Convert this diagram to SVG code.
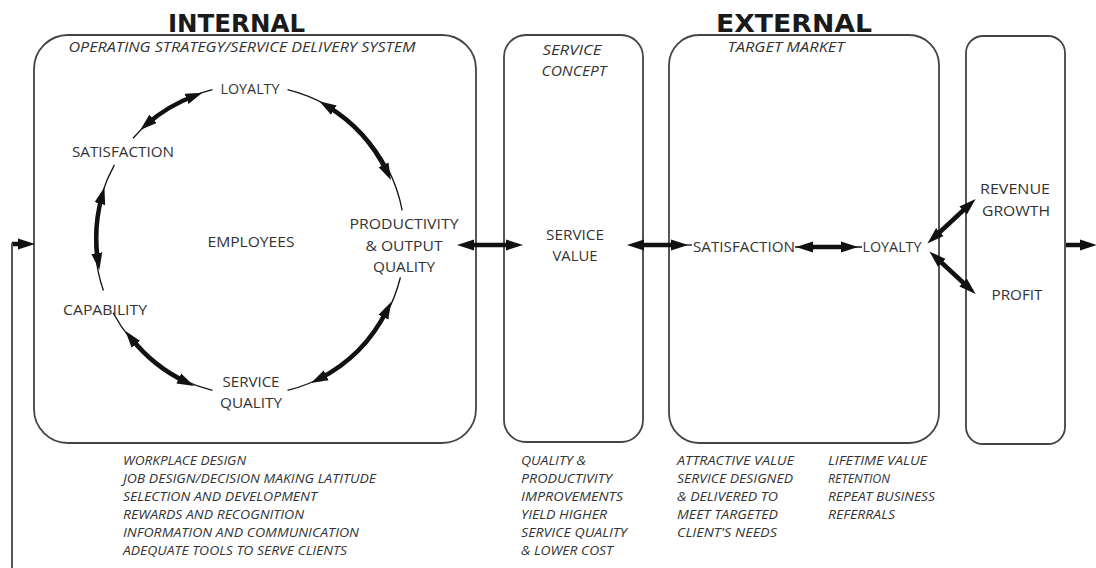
<svg xmlns="http://www.w3.org/2000/svg" width="1096" height="568" viewBox="0 0 1096 568">
<style>
.box{fill:none;stroke:#444;stroke-width:1.8}
.hdr{font-family:"DejaVu Sans",sans-serif;font-weight:bold;font-size:24px;fill:#1a1a1a}
.sub{font-family:"Open Sans",sans-serif;font-style:italic;font-size:14px;fill:#333}
.lbl{font-family:"Open Sans",sans-serif;font-size:14px;fill:#333;text-anchor:middle}
.note{font-family:"Open Sans",sans-serif;font-style:italic;font-size:12.5px;fill:#333}
.thick{fill:none;stroke:#111;stroke-width:4.5;marker-start:url(#ah);marker-end:url(#ah)}
.thin{fill:none;stroke:#111;stroke-width:1.3}
.one{fill:none;stroke:#111;stroke-width:4.5;marker-end:url(#ah)}
</style>
<defs>
<marker id="ah" markerUnits="userSpaceOnUse" markerWidth="18" markerHeight="12" refX="8" refY="6" orient="auto-start-reverse" viewBox="0 0 18 12">
<path d="M0,0.5 L17,6 L0,11.5 z" fill="#111"/>
</marker>
</defs>
<rect width="1096" height="568" fill="#fff"/>

<text class="hdr" x="168" y="32" textLength="137" lengthAdjust="spacingAndGlyphs">INTERNAL</text>
<text class="hdr" x="716" y="32" textLength="156" lengthAdjust="spacingAndGlyphs">EXTERNAL</text>

<g id="internal">
<rect class="box" x="34" y="35" width="442" height="408" rx="34" ry="34"/>
<text class="sub" x="242" y="52" text-anchor="middle" textLength="347" lengthAdjust="spacingAndGlyphs">OPERATING STRATEGY/SERVICE DELIVERY SYSTEM</text>
</g>
<g id="service-concept">
<rect class="box" x="504" y="35" width="139" height="407" rx="22" ry="22"/>
<text class="sub" x="572" y="55" text-anchor="middle" textLength="59" lengthAdjust="spacingAndGlyphs">SERVICE</text>
<text class="sub" x="574" y="76" text-anchor="middle" textLength="65" lengthAdjust="spacingAndGlyphs">CONCEPT</text>
</g>
<g id="target-market">
<rect class="box" x="669" y="35" width="270" height="408" rx="30" ry="30"/>
<text class="sub" x="786" y="52" text-anchor="middle" textLength="117" lengthAdjust="spacingAndGlyphs">TARGET MARKET</text>
</g>
<g id="results">
<rect class="box" x="966" y="36" width="99" height="408" rx="17" ry="17"/>
</g>

<g id="n-loyalty-int"><text class="lbl" x="250" y="94" textLength="59" lengthAdjust="spacingAndGlyphs">LOYALTY</text></g>
<g id="n-satisfaction-int"><text class="lbl" x="123" y="157" textLength="102" lengthAdjust="spacingAndGlyphs">SATISFACTION</text></g>
<g id="n-employees"><text class="lbl" x="251" y="247" textLength="87" lengthAdjust="spacingAndGlyphs">EMPLOYEES</text></g>
<g id="n-productivity">
<text class="lbl" x="404" y="229" textLength="109" lengthAdjust="spacingAndGlyphs">PRODUCTIVITY</text>
<text class="lbl" x="404" y="251" textLength="77" lengthAdjust="spacingAndGlyphs">&amp; OUTPUT</text>
<text class="lbl" x="404" y="272" textLength="62" lengthAdjust="spacingAndGlyphs">QUALITY</text>
</g>
<g id="n-capability"><text class="lbl" x="105" y="315" textLength="84" lengthAdjust="spacingAndGlyphs">CAPABILITY</text></g>
<g id="n-service-quality">
<text class="lbl" x="251" y="387" textLength="57" lengthAdjust="spacingAndGlyphs">SERVICE</text>
<text class="lbl" x="251" y="408" textLength="62" lengthAdjust="spacingAndGlyphs">QUALITY</text>
</g>
<g id="n-service-value">
<text class="lbl" x="575" y="240" textLength="58" lengthAdjust="spacingAndGlyphs">SERVICE</text>
<text class="lbl" x="575" y="261" textLength="45" lengthAdjust="spacingAndGlyphs">VALUE</text>
</g>
<g id="n-satisfaction-ext"><text class="lbl" x="744" y="252" textLength="102" lengthAdjust="spacingAndGlyphs">SATISFACTION</text></g>
<g id="n-loyalty-ext"><text class="lbl" x="892" y="252" textLength="59" lengthAdjust="spacingAndGlyphs">LOYALTY</text></g>
<g id="n-revenue">
<text class="lbl" x="1015" y="194" textLength="70" lengthAdjust="spacingAndGlyphs">REVENUE</text>
<text class="lbl" x="1016" y="216" textLength="68" lengthAdjust="spacingAndGlyphs">GROWTH</text>
</g>
<g id="n-profit"><text class="lbl" x="1017" y="300" textLength="51" lengthAdjust="spacingAndGlyphs">PROFIT</text></g>

<g id="connectors">
<path class="thin" d="M133,138.3 A155,155 0 0 1 212.5,89.6"/>
<path class="thick" d="M147,124 A155,155 0 0 1 194,96"/>
<path class="thin" d="M287.5,89.6 A155,155 0 0 1 402.2,210.4"/>
<path class="thick" d="M327,106 A155,155 0 0 1 387,172"/>
<path class="thin" d="M114.4,164.9 A155,155 0 0 0 103.4,290.5"/>
<path class="thick" d="M102,196 A155,155 0 0 0 98,261"/>
<path class="thin" d="M113.1,312.8 A155,155 0 0 0 212.5,390.4"/>
<path class="thick" d="M131,338 A155,155 0 0 0 186,382"/>
<path class="thin" d="M287.5,390.4 A155,155 0 0 0 400.4,277.5"/>
<path class="thick" d="M319,379 A155,155 0 0 0 387,310"/>

<path class="thick" d="M466,245 H514"/>
<path class="thick" d="M636,245 H679"/>
<path class="thin" d="M680,245 H692"/>
<path class="thick" d="M805,247 H849"/>
<path class="thin" d="M795,247 H804 M850,247 H862"/>
<path class="thick" d="M934,237.5 L969,205"/>
<path class="thick" d="M936,257.5 L969,288"/>
<path class="one" d="M1066,245 H1088"/>
<path class="one" d="M12,244 H26"/>
<path fill="none" stroke="#555" stroke-width="2" d="M12,243 V568"/>
</g>

<g id="notes-internal">
<text class="note" x="123" y="465" textLength="123" lengthAdjust="spacingAndGlyphs">WORKPLACE DESIGN</text>
<text class="note" x="123" y="483" textLength="253" lengthAdjust="spacingAndGlyphs">JOB DESIGN/DECISION MAKING LATITUDE</text>
<text class="note" x="123" y="501" textLength="194" lengthAdjust="spacingAndGlyphs">SELECTION AND DEVELOPMENT</text>
<text class="note" x="123" y="519" textLength="181" lengthAdjust="spacingAndGlyphs">REWARDS AND RECOGNITION</text>
<text class="note" x="123" y="537" textLength="236" lengthAdjust="spacingAndGlyphs">INFORMATION AND COMMUNICATION</text>
<text class="note" x="123" y="555" textLength="224" lengthAdjust="spacingAndGlyphs">ADEQUATE TOOLS TO SERVE CLIENTS</text>
</g>
<g id="notes-concept">
<text class="note" x="521" y="465" textLength="65" lengthAdjust="spacingAndGlyphs">QUALITY &amp;</text>
<text class="note" x="521" y="483" textLength="91" lengthAdjust="spacingAndGlyphs">PRODUCTIVITY</text>
<text class="note" x="521" y="501" textLength="102" lengthAdjust="spacingAndGlyphs">IMPROVEMENTS</text>
<text class="note" x="521" y="519" textLength="86" lengthAdjust="spacingAndGlyphs">YIELD HIGHER</text>
<text class="note" x="521" y="537" textLength="106" lengthAdjust="spacingAndGlyphs">SERVICE QUALITY</text>
<text class="note" x="521" y="555" textLength="92" lengthAdjust="spacingAndGlyphs">&amp; LOWER COST</text>
</g>
<g id="notes-market">
<text class="note" x="677" y="465" textLength="117" lengthAdjust="spacingAndGlyphs">ATTRACTIVE VALUE</text>
<text class="note" x="677" y="483" textLength="116" lengthAdjust="spacingAndGlyphs">SERVICE DESIGNED</text>
<text class="note" x="677" y="501" textLength="101" lengthAdjust="spacingAndGlyphs">&amp; DELIVERED TO</text>
<text class="note" x="677" y="519" textLength="101" lengthAdjust="spacingAndGlyphs">MEET TARGETED</text>
<text class="note" x="677" y="537" textLength="100" lengthAdjust="spacingAndGlyphs">CLIENT'S NEEDS</text>
</g>
<g id="notes-loyalty">
<text class="note" x="828" y="465" textLength="99" lengthAdjust="spacingAndGlyphs">LIFETIME VALUE</text>
<text class="note" x="828" y="483" textLength="62" lengthAdjust="spacingAndGlyphs">RETENTION</text>
<text class="note" x="828" y="501" textLength="107" lengthAdjust="spacingAndGlyphs">REPEAT BUSINESS</text>
<text class="note" x="828" y="519" textLength="67" lengthAdjust="spacingAndGlyphs">REFERRALS</text>
</g>
</svg>
